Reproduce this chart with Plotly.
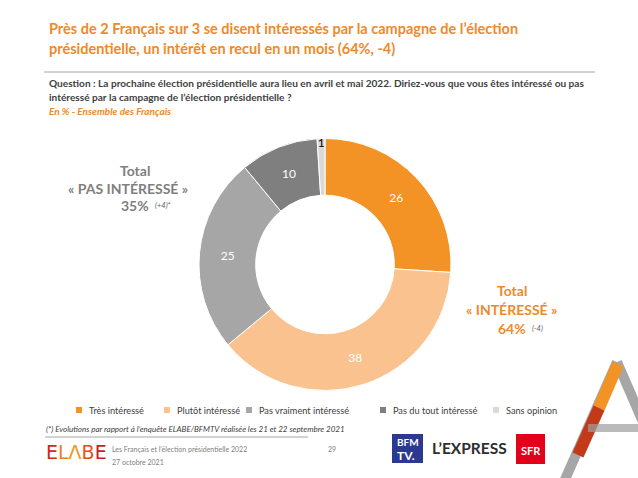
import plotly.graph_objects as go

# ---- data ----
categories = ["Très intéressé", "Plutôt intéressé", "Pas vraiment intéressé",
              "Pas du tout intéressé", "Sans opinion"]
values = [26, 38, 25, 10, 1]
colors = ["#F39325", "#F9C28F", "#A6A6A6", "#7F7F7F", "#D9D9D9"]
label_colors = ["white", "white", "white", "white", "black"]

W, H = 638, 478
FONT = "Lato"
ORANGE = "#EE8A2A"
GRAY_TXT = "#7F7F7F"


def px(x):
    return x / W


def py(y):
    return 1 - y / H


fig = go.Figure()

# donut
cx, cy, r = 325, 264.5, 126
fig.add_trace(go.Pie(
    labels=categories, values=values, sort=False, direction="clockwise",
    hole=0.55, rotation=0,
    marker=dict(colors=colors, line=dict(color="white", width=1)),
    textinfo="value", textposition="inside", insidetextorientation="horizontal",
    textfont=dict(family=FONT, size=12, color=label_colors),
    domain=dict(x=[px(cx - r), px(cx + r)], y=[py(cy + r), py(cy - r)]),
    showlegend=False, hoverinfo="label+value",
))

ann = []


def text(x, y, s, size=10, color="#404040", xanchor="left", bold=False, italic=False):
    if bold:
        s = "<b>" + s + "</b>"
    if italic:
        s = "<i>" + s + "</i>"
    ann.append(dict(x=px(x), y=py(y), xref="paper", yref="paper", text=s,
                    showarrow=False, xanchor=xanchor, yanchor="middle",
                    font=dict(family=FONT, size=size, color=color)))


# title
text(47, 28, "Près de 2 Français sur 3 se disent intéressés par la campagne de l’élection",
     size=14.5, color=ORANGE, bold=True)
text(47, 48, "présidentielle, un intérêt en recul en un mois (64%, -4)",
     size=14.5, color=ORANGE, bold=True)

# question
text(47, 83, "Question : La prochaine élection présidentielle aura lieu en avril et mai 2022. "
     "Diriez-vous que vous êtes intéressé ou pas", size=10.1, bold=True)
text(47, 97, "intéressé par la campagne de l’élection présidentielle ?", size=10.1, bold=True)
text(47, 111, "En % - Ensemble des Français", size=10, color=ORANGE, bold=True, italic=True)

# left total
text(135, 171, "Total", size=14, color=GRAY_TXT, xanchor="center", bold=True)
text(128, 188, "« PAS INTÉRESSÉ »", size=14, color=GRAY_TXT, xanchor="center", bold=True)
text(134.5, 205, "35%", size=14, color=GRAY_TXT, xanchor="center", bold=True)
text(163, 205, "(+4)*", size=7.5, color="#595959", xanchor="center", italic=True)

# right total
text(512, 290, "Total", size=14, color=ORANGE, xanchor="center", bold=True)
text(511, 309, "« INTÉRESSÉ »", size=14, color=ORANGE, xanchor="center", bold=True)
text(512, 328, "64%", size=14, color=ORANGE, xanchor="center", bold=True)
text(537, 328, "(-4)", size=7.5, color="#595959", xanchor="center", italic=True)

shapes = []

# custom legend
legend_x = [79, 167, 249, 383, 496]
for lx, cat, col in zip(legend_x, categories, colors):
    shapes.append(dict(type="rect", xref="paper", yref="paper",
                       x0=px(lx - 3), x1=px(lx + 3), y0=py(413), y1=py(407),
                       fillcolor=col, line=dict(width=0)))
    text(lx + 8, 410, cat, size=9.2, color="#404040")

# separator line under title
shapes.append(dict(type="line", xref="paper", yref="paper",
                   x0=px(44), x1=px(595), y0=py(72), y1=py(72),
                   line=dict(color="#A6A6A6", width=1)))

# footnote
text(44, 429, "(*) Evolutions par rapport à l’enquête ELABE/BFMTV réalisée les 21 et 22 septembre 2021",
     size=8, color="#404040", italic=True)
shapes.append(dict(type="line", xref="paper", yref="paper",
                   x0=px(45), x1=px(308), y0=py(437), y1=py(437),
                   line=dict(color="#A6A6A6", width=1)))

# footer
ann.append(dict(x=px(44), y=py(452), xref="paper", yref="paper", showarrow=False,
                xanchor="left", yanchor="middle",
                text=('<span style="color:#D7261E">E</span><span style="color:#EE7D1E">L</span>'
                      '<span style="color:#F39325">Λ</span><span style="color:#E8501E">B</span>'
                      '<span style="color:#C81E1E">E</span>'),
                font=dict(family="DejaVu Sans", size=19)))
text(110, 449, "Les Français et l’élection présidentielle 2022", size=7, color="#808080")
text(110, 462, "27 octobre 2021", size=7, color="#808080")
text(332, 449, "29", size=7, color="#808080", xanchor="center")

# BFM TV logo
shapes.append(dict(type="rect", xref="paper", yref="paper",
                   x0=px(392), x1=px(423), y0=py(463), y1=py(434),
                   fillcolor="#2B3990", line=dict(width=0)))
text(407.5, 442, "BFM", size=10, color="white", xanchor="center", bold=True)
text(406, 455, "TV.", size=12, color="white", xanchor="center", bold=True)

# L'EXPRESS
text(469, 448, "L’EXPRESS", size=15.5, color="#2E2E2E", xanchor="center", bold=True)

# SFR
shapes.append(dict(type="rect", xref="paper", yref="paper",
                   x0=px(516), x1=px(545), y0=py(464), y1=py(434),
                   fillcolor="#E2001A", line=dict(width=0)))
text(530.5, 450, "SFR", size=11, color="white", xanchor="center", bold=True)


# decorative "A" mark bottom-right
def seg(x0, y0, x1, y1, color, width, opacity=1.0):
    shapes.append(dict(type="line", xref="paper", yref="paper",
                       x0=px(x0), y0=py(y0), x1=px(x1), y1=py(y1),
                       line=dict(color=color, width=width), opacity=opacity))


seg(563, 484, 617, 362, "#A6A6A6", 10)
seg(617, 362, 650, 438, "#A6A6A6", 10)
seg(618, 364, 599, 408, "#F39325", 12)
seg(599, 408, 578, 455, "#C23A1A", 12)
seg(588, 428, 640, 428, "#9E9E9E", 8, opacity=0.7)

fig.update_layout(
    width=W, height=H, margin=dict(l=0, r=0, t=0, b=0),
    paper_bgcolor="white", plot_bgcolor="white",
    annotations=ann, shapes=shapes,
    uniformtext=dict(minsize=11, mode="show"),
    font=dict(family=FONT),
)

fig.write_html("out.html", config={"displayModeBar": False},
               post_script="document.body.style.margin='0px';document.body.style.overflow='hidden';")
